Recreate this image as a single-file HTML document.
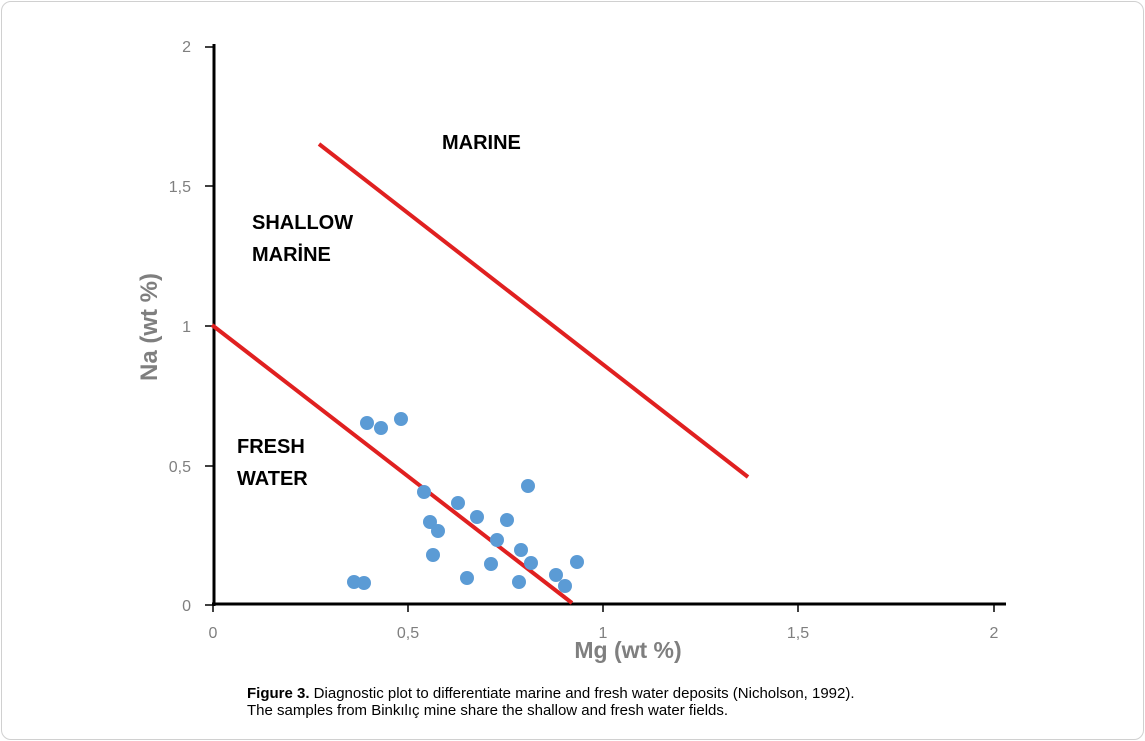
<!DOCTYPE html>
<html><head><style>
body{margin:0;background:#fff;}
.wrap{position:relative;width:1145px;height:741px;overflow:hidden;}
.frame{position:absolute;left:1px;top:1px;width:1141px;height:737px;border:1px solid #d0d0d0;border-radius:10px;}
svg text{font-family:"Liberation Sans",sans-serif;}
.cap{position:absolute;left:247px;top:685px;font-family:"Liberation Sans",sans-serif;font-size:15px;line-height:17px;color:#000;}
</style></head><body><div class="wrap"><div class="frame"></div>
<svg width="1145" height="741" style="position:absolute;left:0;top:0">
<g stroke="#000" stroke-width="3">
<line x1="214" y1="44" x2="214" y2="606"/>
<line x1="212" y1="604" x2="1006" y2="604"/>
</g>
<g stroke="#000" stroke-width="1.5">
<line x1="205" y1="47" x2="214" y2="47"/><line x1="205" y1="186" x2="214" y2="186"/><line x1="205" y1="326" x2="214" y2="326"/><line x1="205" y1="466" x2="214" y2="466"/><line x1="205" y1="605" x2="214" y2="605"/>
<line x1="213" y1="604" x2="213" y2="612"/><line x1="408" y1="604" x2="408" y2="612"/><line x1="603" y1="604" x2="603" y2="612"/><line x1="798" y1="604" x2="798" y2="612"/><line x1="994" y1="604" x2="994" y2="612"/>
</g>
<g fill="#7f7f7f" font-size="16" text-anchor="end">
<text x="191" y="52">2</text><text x="191" y="192">1,5</text><text x="191" y="332">1</text><text x="191" y="472">0,5</text><text x="191" y="611">0</text>
</g>
<g fill="#7f7f7f" font-size="16" text-anchor="middle">
<text x="213" y="638">0</text><text x="408" y="638">0,5</text><text x="603" y="638">1</text><text x="798" y="638">1,5</text><text x="994" y="638">2</text>
</g>
<text x="628" y="658" fill="#7f7f7f" font-size="23" font-weight="bold" text-anchor="middle">Mg (wt %)</text>
<text transform="translate(157,327) rotate(-90)" fill="#7f7f7f" font-size="24" font-weight="bold" text-anchor="middle">Na (wt %)</text>
<g stroke="#e02020" stroke-width="4">
<line x1="212" y1="325" x2="572" y2="603"/>
<line x1="319" y1="144" x2="748" y2="477"/>
</g>
<g fill="#5b9bd5">
<circle cx="367" cy="423" r="7"/><circle cx="381" cy="428" r="7"/><circle cx="401" cy="419" r="7"/><circle cx="424" cy="492" r="7"/><circle cx="430" cy="522" r="7"/><circle cx="438" cy="531" r="7"/><circle cx="433" cy="555" r="7"/><circle cx="458" cy="503" r="7"/><circle cx="477" cy="517" r="7"/><circle cx="467" cy="578" r="7"/><circle cx="491" cy="564" r="7"/><circle cx="497" cy="540" r="7"/><circle cx="507" cy="520" r="7"/><circle cx="521" cy="550" r="7"/><circle cx="528" cy="486" r="7"/><circle cx="531" cy="563" r="7"/><circle cx="519" cy="582" r="7"/><circle cx="556" cy="575" r="7"/><circle cx="565" cy="586" r="7"/><circle cx="577" cy="562" r="7"/><circle cx="354" cy="582" r="7"/><circle cx="364" cy="583" r="7"/>
</g>
<g fill="#000" font-size="20" font-weight="bold">
<text x="442" y="149">MARINE</text>
<text x="252" y="229">SHALLOW</text><text x="252" y="261">MARİNE</text>
<text x="237" y="453">FRESH</text><text x="237" y="485">WATER</text>
</g>
</svg>
<div class="cap"><b>Figure 3.</b> Diagnostic plot to differentiate marine and fresh water deposits (Nicholson, 1992).<br>The samples from Binkılıç mine share the shallow and fresh water fields.</div>
</div></body></html>
